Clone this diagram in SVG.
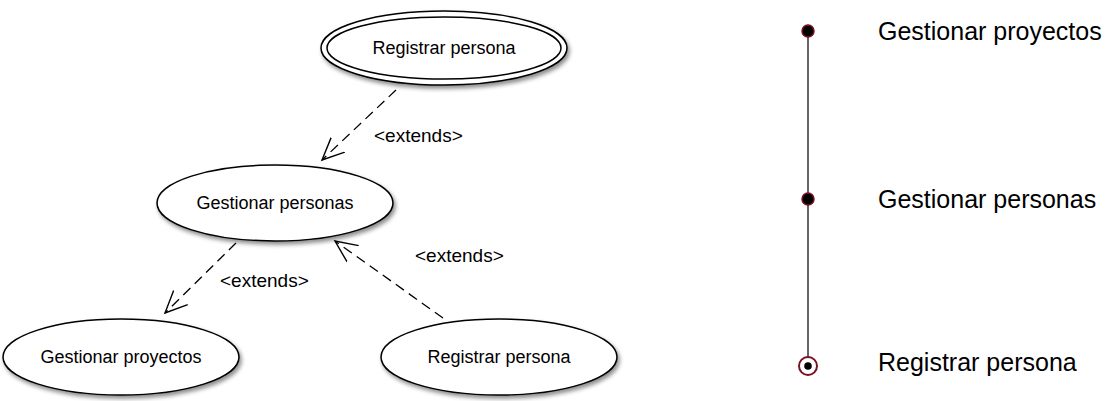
<svg xmlns="http://www.w3.org/2000/svg" width="1112" height="401" viewBox="0 0 1112 401">
<style>
.uc{fill:#fff;stroke:#000;stroke-width:1.5}
.lbl{font-family:"Liberation Sans",Arial,sans-serif;font-size:18px;fill:#000;text-anchor:middle}
.elab{font-family:"Liberation Sans",Arial,sans-serif;font-size:19px;fill:#000}
.rlab{font-family:"Liberation Sans",Arial,sans-serif;font-size:25px;fill:#000}
.dep{fill:none;stroke:#000;stroke-width:1.3;stroke-dasharray:10 6}
.dot{fill:#000;stroke:#7a1020;stroke-width:1.5}
</style>
<defs>
<filter id="sh" x="-20%" y="-30%" width="140%" height="170%">
<feDropShadow dx="2" dy="3" stdDeviation="2" flood-color="#000" flood-opacity="0.45"/>
</filter>
<marker id="open" markerUnits="userSpaceOnUse" markerWidth="26" markerHeight="26" refX="22" refY="11" orient="auto">
<path d="M0,1 L22,11 L0,21" fill="none" stroke="#000" stroke-width="1.4"/>
</marker>
</defs>
<g id="n-registrar-top">
<ellipse class="uc" cx="444" cy="48" rx="123" ry="37" filter="url(#sh)"/>
<ellipse fill="none" stroke="#000" stroke-width="1.5" cx="444" cy="48" rx="117" ry="31"/>
<text class="lbl" x="444" y="54">Registrar persona</text>
</g>
<g id="n-gestionar-personas">
<ellipse class="uc" cx="275" cy="203" rx="118" ry="38" filter="url(#sh)"/>
<text class="lbl" x="275" y="209">Gestionar personas</text>
</g>
<g id="n-gestionar-proyectos">
<ellipse class="uc" cx="121" cy="357" rx="118" ry="38" filter="url(#sh)"/>
<text class="lbl" x="121" y="363">Gestionar proyectos</text>
</g>
<g id="n-registrar-bottom">
<ellipse class="uc" cx="499" cy="357" rx="118" ry="38" filter="url(#sh)"/>
<text class="lbl" x="499" y="363">Registrar persona</text>
</g>
<g id="connectors">
<line class="dep" x1="396" y1="90" x2="322" y2="160" marker-end="url(#open)"/>
<line class="dep" x1="236" y1="243" x2="165" y2="313" marker-end="url(#open)"/>
<line class="dep" x1="443" y1="318" x2="335" y2="241" marker-end="url(#open)"/>
<text class="elab" x="374" y="142">&lt;extends&gt;</text>
<text class="elab" x="220" y="287">&lt;extends&gt;</text>
<text class="elab" x="415" y="262">&lt;extends&gt;</text>
</g>
<g id="timeline">
<line x1="808" y1="31" x2="808" y2="357" stroke="#333" stroke-width="1.5"/>
<g id="t-gestionar-proyectos">
<circle class="dot" cx="808" cy="31" r="6"/>
<text class="rlab" x="878" y="40">Gestionar proyectos</text>
</g>
<g id="t-gestionar-personas">
<circle class="dot" cx="808" cy="199" r="6"/>
<text class="rlab" x="878" y="208">Gestionar personas</text>
</g>
<g id="t-registrar-persona">
<circle cx="808" cy="366" r="9" fill="#fff" stroke="#7a1020" stroke-width="2"/>
<circle cx="808" cy="366" r="3.8" fill="#000"/>
<text class="rlab" x="878" y="371">Registrar persona</text>
</g>
</g>
</svg>
